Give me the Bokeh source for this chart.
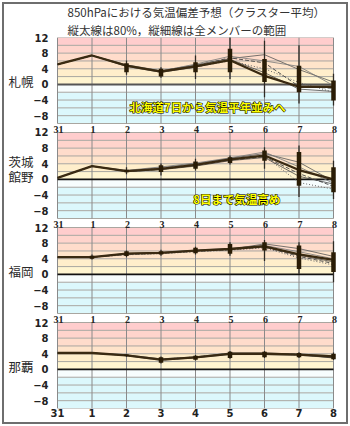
import math
from bokeh.plotting import figure
from bokeh.models import (Range1d, FixedTicker, Label, LabelSet, ColumnDataSource,
                          InlineStyleSheet, LinearAxis, Title)
from bokeh.embed import file_html
from bokeh.resources import INLINE

# ---------------- data ----------------
days = ["31", "1", "2", "3", "4", "5", "6", "7", "8"]
stations = ["札幌", "館野", "福岡", "那覇"]
y_ticks = [12, 8, 4, 0, -4, -8]

# 札幌
sap_mean = [5.1, 7.4, 4.8, 3.3, 4.6, 6.2, 2.2, -0.6, -0.6]
sap_m1 = [5.1, 7.4, 5.0, 3.5, 5.0, 6.6, 7.6, 3.8, 0.6]
sap_m2 = [5.1, 7.4, 4.9, 3.4, 5.2, 7.2, 6.0, 4.6, -0.3]
sap_m3 = [5.1, 7.4, 4.8, 3.4, 4.8, 6.8, 5.5, -0.5, -1.0]
sap_m4 = [5.1, 7.4, 4.7, 3.2, 4.5, 6.0, 4.0, 0.5, -2.0]
sap_m5 = [5.1, 7.4, 4.6, 3.1, 4.4, 6.4, 3.0, -1.2, -1.8]
sap_p80_lo = [None, None, 3.1, 2.0, 3.1, 3.1, 0.6, -2.0, -4.1]
sap_p80_hi = [None, None, 5.4, 4.0, 5.7, 9.1, 6.5, 4.8, 1.0]
sap_all_lo = [None, None, 2.5, 1.7, 1.4, 1.4, -3.3, -4.9, -5.4]
sap_all_hi = [None, None, 6.1, 4.4, 7.4, 12.2, 11.2, 10.0, 2.7]

# 館野
tat_mean = [0.4, 3.4, 2.1, 2.7, 3.7, 5.1, 6.1, 2.4, 0.0]
tat_m1 = [0.4, 3.4, 2.2, 3.0, 4.0, 5.4, 6.6, 4.4, -0.5]
tat_m2 = [0.4, 3.4, 2.3, 3.2, 4.2, 5.5, 7.0, 3.2, -1.0]
tat_m3 = [0.4, 3.4, 2.0, 2.6, 3.6, 5.0, 5.8, 1.5, -1.8]
tat_m4 = [0.4, 3.4, 2.1, 2.8, 3.8, 4.9, 6.0, -0.8, -2.5]
tat_m5 = [0.4, 3.4, 2.0, 2.5, 3.4, 4.8, 5.6, 0.8, -1.2]
tat_p80_lo = [None, None, 1.8, 1.9, 2.7, 4.2, 4.8, -1.6, -3.3]
tat_p80_hi = [None, None, 2.5, 3.6, 4.6, 5.7, 7.4, 7.0, 3.1]
tat_all_lo = [None, None, 1.3, 1.0, 2.3, 3.8, 2.7, -4.5, -5.0]
tat_all_hi = [None, None, 3.1, 4.1, 5.3, 6.1, 8.2, 8.7, 4.8]

# 福岡
fuk_mean = [4.4, 4.4, 5.3, 5.5, 6.1, 6.5, 7.2, 5.1, 3.7]
fuk_m1 = [4.4, 4.4, 5.2, 5.5, 6.0, 6.4, 7.8, 6.6, 4.6]
fuk_m2 = [4.4, 4.4, 5.4, 5.6, 6.2, 6.6, 7.4, 5.8, 4.0]
fuk_m3 = [4.4, 4.4, 5.1, 5.4, 5.9, 6.3, 7.0, 4.6, 2.8]
fuk_m4 = [4.4, 4.4, 5.0, 5.3, 5.8, 6.2, 6.8, 4.2, 2.4]
fuk_m5 = [4.4, 4.4, 5.3, 5.6, 6.1, 6.5, 7.1, 4.9, 3.2]
fuk_p80_lo = [None, 4.0, 4.7, 5.1, 5.4, 5.3, 6.1, 1.4, 0.6]
fuk_p80_hi = [None, 4.8, 5.9, 5.9, 6.8, 7.8, 8.2, 7.4, 5.7]
fuk_all_lo = [None, 3.8, 4.4, 4.8, 5.1, 4.8, 3.4, 0.2, -2.0]
fuk_all_hi = [None, 5.1, 6.1, 6.3, 7.1, 8.2, 8.8, 8.2, 8.5]

# 那覇
nah_mean = [4.2, 4.2, 3.6, 2.5, 3.1, 4.0, 4.0, 3.8, 3.3]
nah_m1 = [4.2, 4.2, 3.7, 2.7, 3.2, 4.2, 4.2, 3.9, 3.5]
nah_m2 = [4.2, 4.2, 3.5, 2.3, 3.0, 3.8, 3.8, 3.6, 3.0]
nah_m3 = [4.2, 4.2, 3.6, 2.4, 3.1, 4.1, 3.9, 3.9, 3.1]
nah_m4 = [4.2, 4.2, 3.5, 2.6, 3.2, 3.9, 4.1, 3.7, 3.2]
nah_m5 = [4.2, 4.2, 3.6, 2.5, 3.0, 4.0, 4.0, 3.8, 2.9]
nah_p80_lo = [None, None, 3.4, 1.7, 2.5, 2.9, 3.1, 3.1, 2.6]
nah_p80_hi = [None, None, 3.8, 3.1, 3.5, 4.5, 4.5, 4.2, 4.0]
nah_all_lo = [None, None, 3.2, 1.5, 2.3, 2.7, 2.9, 2.9, 2.4]
nah_all_hi = [None, None, 3.9, 3.3, 3.7, 4.7, 4.7, 4.4, 4.3]

panels = [
    (sap_mean, [sap_m1, sap_m2, sap_m3, sap_m4, sap_m5], sap_p80_lo, sap_p80_hi, sap_all_lo, sap_all_hi),
    (tat_mean, [tat_m1, tat_m2, tat_m3, tat_m4, tat_m5], tat_p80_lo, tat_p80_hi, tat_all_lo, tat_all_hi),
    (fuk_mean, [fuk_m1, fuk_m2, fuk_m3, fuk_m4, fuk_m5], fuk_p80_lo, fuk_p80_hi, fuk_all_lo, fuk_all_hi),
    (nah_mean, [nah_m1, nah_m2, nah_m3, nah_m4, nah_m5], nah_p80_lo, nah_p80_hi, nah_all_lo, nah_all_hi),
]

title1 = "850hPaにおける気温偏差予想（クラスター平均）"
title2 = "縦太線は80%，縦細線は全メンバーの範囲"
note1 = "北海道7日から気温平年並みへ"
note2 = "8日まで気温高め"
pref2 = "茨城"

# ---------------- layout ----------------
W, H = 350, 426
LEFT, RIGHT, TOP = 48, 12, 37
DAY_PX = 34.5
PAD_L = 9                                 # px between frame edge and first day
PANEL_PX, GAP_PX = 86, 9
Y_LO, Y_HI = -10, 12
UPP = (Y_HI - Y_LO) / PANEL_PX          # data units per pixel
STEP = (PANEL_PX + GAP_PX) * UPP         # panel step in data units
FRAME_H = 4 * PANEL_PX + 3 * GAP_PX
BOTTOM = H - TOP - FRAME_H
X_START = -PAD_L / DAY_PX
X_END = X_START + (W - LEFT - RIGHT) / DAY_PX

css = """
:host::after { content: ""; position: absolute; left: 2px; top: 2px; right: 2px; bottom: 2px;
  border: 2px solid #6e6e6e; pointer-events: none; z-index: 50; }
"""
p = figure(width=W, height=H, output_backend="svg", toolbar_location=None,
           x_range=Range1d(X_START, X_END), y_range=Range1d(Y_LO - 3 * STEP, Y_HI),
           min_border_left=LEFT, min_border_right=RIGHT,
           min_border_top=TOP, min_border_bottom=BOTTOM,
           stylesheets=[InlineStyleSheet(css=css)])
p.outline_line_color = None
p.xgrid.visible = False
p.ygrid.visible = False
p.background_fill_color = "white"
p.border_fill_color = "white"

for k in range(4):
    p.extra_y_ranges[f"p{k}"] = Range1d(Y_LO - (3 - k) * STEP, Y_HI + k * STEP)

band_edges = [12, 10, 8, 6, 4, 2, 0, -2, -4, -6, -8, -10]
band_colors = ["#ffcdcd", "#ffd4cc", "#ffdccb", "#ffe4ca", "#ffeecb", "#fff5d0",
               "#f7fdfd", "#dcf8fc", "#dcf8fc", "#dcf8fc", "#dcf8fc"]
xs = list(range(len(days)))
hlines = [v for v in range(Y_LO, Y_HI + 1, 2) if v != 0]
member_styles = [("solid", 0.8, "#555555"), ("solid", 0.8, "#777777"), ("4 2", 0.9, "#444444"),
                 ("1 2", 1.0, "#666666"), ("solid", 0.7, "#333333")]

for k, (mean, members, lo80, hi80, loall, hiall) in enumerate(panels):
    rn = f"p{k}"
    p.quad(left=0, right=len(days) - 1, bottom=band_edges[1:], top=band_edges[:-1],
           fill_color=band_colors, line_color=None, y_range_name=rn)
    p.segment(x0=0, x1=len(days) - 1, y0=hlines, y1=hlines, line_color="#a9a6a0",
              line_width=1, y_range_name=rn)
    p.segment(x0=xs, x1=xs, y0=Y_LO, y1=Y_HI, line_color="#8a8a8a", line_width=1,
              y_range_name=rn)
    p.segment(x0=0, x1=len(days) - 1, y0=0, y1=0,
              line_color="#555555" if k == 0 else "#111111",
              line_width=2 if k == 0 else 1.6, y_range_name=rn)
    for m, (dash, lw, col) in zip(members, member_styles):
        p.line(xs, m, line_color=col, line_width=lw, line_dash=dash, y_range_name=rn)
    p.line(xs, mean, line_color="#3a2a12", line_width=2.3, y_range_name=rn)
    bx = [i for i in xs if lo80[i] is not None]
    p.segment(x0=bx, x1=bx, y0=[loall[i] for i in bx], y1=[hiall[i] for i in bx],
              line_color="#2e2a24", line_width=1.3, y_range_name=rn)
    p.segment(x0=bx, x1=bx, y0=[lo80[i] for i in bx], y1=[hi80[i] for i in bx],
              line_color="#2a1c06", line_width=4.5, line_cap="butt", y_range_name=rn)
    # day labels between panels
    if k < 3:
        src = ColumnDataSource(dict(x=xs, t=days))
        p.add_layout(LabelSet(x="x", y=Y_LO - 6 * UPP, text="t", source=src,
                              y_range_name=rn, text_align="center",
                              text_baseline="middle", x_offset=1,
                              text_font="DejaVu Sans", text_font_style="bold",
                              text_font_size="10px", text_color="#222222"))

# y axis ticks for every panel
ticks, overrides = [], {}
for k in range(4):
    for v in y_ticks:
        t = round(v - k * STEP, 4)
        ticks.append(t)
        overrides[t] = str(v).replace("-", "−")
yax = p.yaxis[0]
yax.ticker = FixedTicker(ticks=ticks)
yax.major_label_overrides = overrides
yax.axis_line_color = None
yax.major_tick_line_color = None
yax.minor_tick_line_color = None
yax.major_tick_out = 0
yax.major_tick_in = 0
yax.major_label_standoff = 0
yax.major_label_text_font = "DejaVu Sans"
yax.major_label_text_font_style = "bold"
yax.major_label_text_font_size = "10px"
yax.major_label_text_color = "#222222"

# station-name axis
name_ticks, name_over = [], {}
for k, s in enumerate(stations):
    t = round(0.7 - k * STEP, 4)
    name_ticks.append(t)
    name_over[t] = s
t = round(4.6 - 1 * STEP, 4)
name_ticks.append(t)
name_over[t] = pref2
nax = LinearAxis(ticker=FixedTicker(ticks=name_ticks), major_label_overrides=name_over,
                 axis_line_color=None, major_tick_line_color=None, minor_tick_line_color=None,
                 major_tick_out=0, major_tick_in=0, major_label_standoff=-3,
                 major_label_text_font="Noto Sans CJK JP", major_label_text_font_size="12.5px",
                 major_label_text_color="#2a2a2a")
p.add_layout(nax, "left")

xax = p.xaxis[0]
xax.ticker = FixedTicker(ticks=xs)
xax.major_label_overrides = {i: d for i, d in enumerate(days)}
xax.axis_line_color = None
xax.major_tick_line_color = None
xax.minor_tick_line_color = None
xax.major_tick_out = 0
xax.major_tick_in = 0
xax.major_label_standoff = 0
xax.major_label_text_font = "DejaVu Sans"
xax.major_label_text_font_style = "bold"
xax.major_label_text_font_size = "10px"
xax.major_label_text_color = "#222222"

# titles (first added sits closest to the frame)
p.add_layout(Title(text=title2, align="left", offset=19, standoff=0,
                   text_font="Noto Sans CJK JP", text_font_size="11.5px",
                   text_font_style="normal", text_color="#333333"), "above")
p.add_layout(Title(text=title1, align="left", offset=19, standoff=0,
                   text_font="Noto Sans CJK JP", text_font_size="11.5px",
                   text_font_style="normal", text_color="#333333"), "above")

# overlay notes: black outlined copy underneath, bright yellow on top
for txt, nx, ny, rn in [(note1, 4.35, -5.9, "p0"), (note2, 5.2, -4.9, "p1")]:
    common = dict(x=nx, y=ny, y_range_name=rn, text=txt, text_align="center",
                  text_baseline="middle", text_font="Noto Sans CJK JP",
                  text_font_size="11.5px", text_font_style="bold")
    p.add_layout(Label(text_color="#000000", text_outline_color="#000000", **common))
    p.add_layout(Label(text_color="#ffff00", **common))

open("out.html", "w").write(file_html(p, INLINE))
